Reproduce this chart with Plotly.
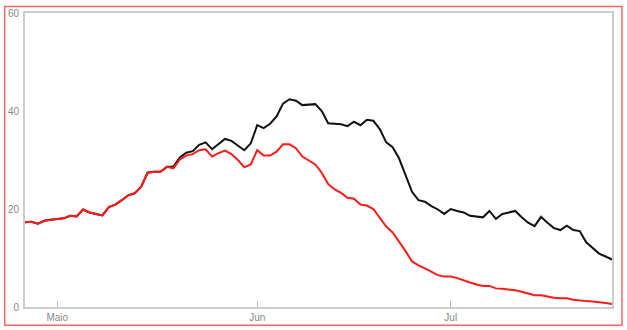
import pandas as pd
import plotly.graph_objects as go

dates = pd.date_range("2021-04-26", periods=92, freq="D")

series_black = [17.3, 17.4, 17.0, 17.6, 17.8, 18.0, 18.1, 18.6, 18.5, 19.9,
                19.3, 19.0, 18.7, 20.4, 20.9, 21.8, 22.8, 23.2, 24.5, 27.4,
                27.6, 27.6, 28.6, 28.6, 30.5, 31.5, 31.8, 33.1, 33.6, 32.2,
                33.3, 34.3, 33.9, 32.9, 32.0, 33.4, 37.1, 36.5, 37.4, 38.9,
                41.5, 42.4, 42.1, 41.2, 41.3, 41.4, 40.0, 37.5, 37.4, 37.3,
                36.9, 37.8, 37.1, 38.2, 38.0, 36.3, 33.6, 32.6, 30.3, 26.8,
                23.5, 21.8, 21.5, 20.6, 19.9, 19.0, 20.0, 19.6, 19.3, 18.6,
                18.5, 18.3, 19.6, 18.0, 19.0, 19.3, 19.6, 18.3, 17.2, 16.5,
                18.4, 17.2, 16.1, 15.7, 16.6, 15.7, 15.5, 13.2, 12.0, 10.9,
                10.3, 9.7]

series_red = [17.3, 17.4, 17.0, 17.6, 17.8, 18.0, 18.1, 18.6, 18.5, 19.9,
              19.3, 19.0, 18.7, 20.4, 20.9, 21.8, 22.8, 23.2, 24.5, 27.4,
              27.6, 27.6, 28.6, 28.3, 30.1, 30.9, 31.2, 32.0, 32.2, 30.7,
              31.4, 31.9, 31.2, 30.0, 28.5, 29.1, 32.0, 30.9, 30.9, 31.7,
              33.2, 33.2, 32.4, 30.7, 29.9, 29.1, 27.4, 25.1, 24.0, 23.3,
              22.3, 22.1, 20.9, 20.7, 20.0, 18.1, 16.4, 15.2, 13.4, 11.4,
              9.3, 8.5, 7.9, 7.2, 6.5, 6.2, 6.2, 5.9, 5.4, 5.0,
              4.6, 4.3, 4.3, 3.8, 3.7, 3.6, 3.4, 3.1, 2.8, 2.4,
              2.4, 2.1, 1.9, 1.8, 1.8, 1.5, 1.3, 1.2, 1.1, 1.0,
              0.8, 0.6]

x_tick_vals = ["2021-05-01", "2021-06-01", "2021-07-01"]
x_tick_text = ["Maio", "Jun", "Jul"]
y_tick_vals = [0, 20, 40, 60]

fig = go.Figure()
fig.add_trace(go.Scatter(x=dates, y=series_black, mode="lines",
                         line=dict(color="#111111", width=2), showlegend=False))
fig.add_trace(go.Scatter(x=dates, y=series_red, mode="lines",
                         line=dict(color="#ff1a1a", width=2), showlegend=False))

fig.update_layout(
    width=627, height=330,
    margin=dict(l=25, r=15, t=13, b=23, autoexpand=False),
    paper_bgcolor="white", plot_bgcolor="white",
    font=dict(family="Liberation Sans, Arial, sans-serif", size=10, color="#888888"),
    xaxis=dict(range=[dates[0], dates[-1]], tickvals=x_tick_vals, ticktext=x_tick_text,
               showgrid=False, zeroline=False, showline=True, mirror=True,
               linecolor="#cccccc", linewidth=2, ticks="inside", ticklen=6,
               tickcolor="#bbbbbb", tickwidth=1, automargin=False,
               tickfont=dict(color="#888888")),
    yaxis=dict(range=[0, 60], tickvals=y_tick_vals, showgrid=False, zeroline=False,
               showline=True, mirror=True, linecolor="#cccccc", linewidth=2,
               ticks="", ticklabelstandoff=2, automargin=False,
               tickfont=dict(color="#888888")),
    shapes=[dict(type="rect", xref="paper", yref="paper",
                 x0=-0.0346, x1=1.017, y0=-0.0622, y1=1.0221,
                 line=dict(color="#ff6666", width=1.5), fillcolor="rgba(0,0,0,0)")],
)

fig.write_html("out.html")
